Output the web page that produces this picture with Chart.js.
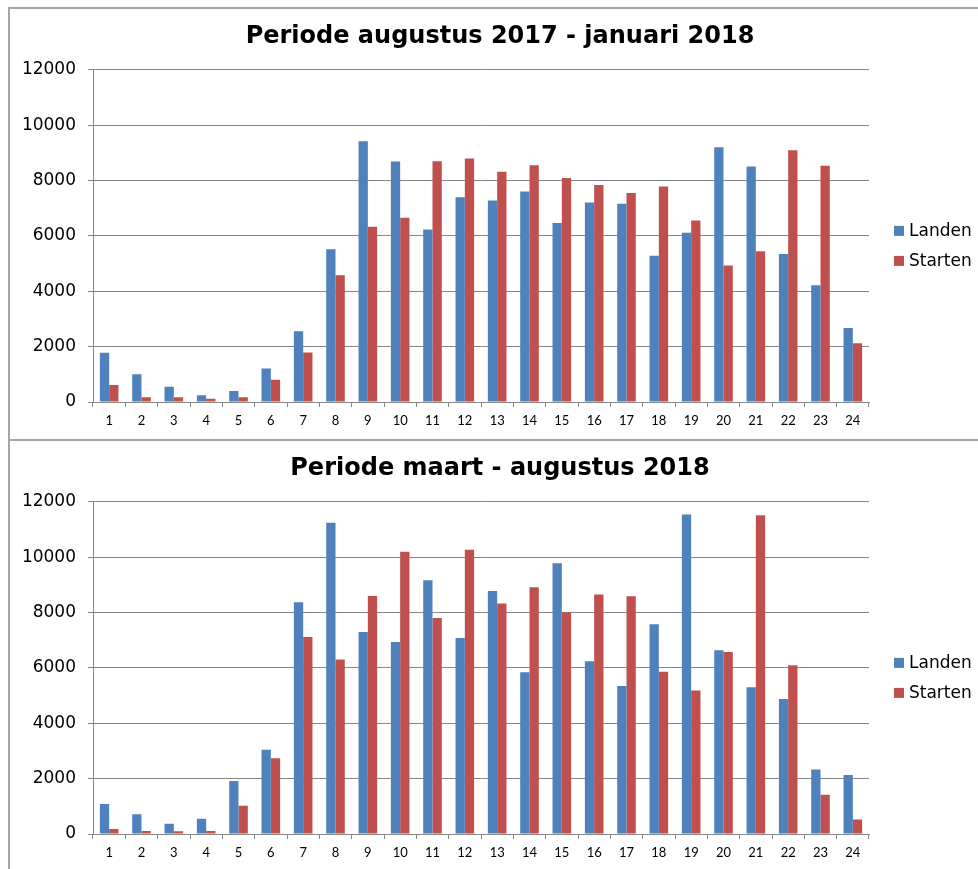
<!DOCTYPE html>
<html>
<head>
<meta charset="utf-8">
<script src="https://cdn.jsdelivr.net/npm/chart.js@4.4.0/dist/chart.umd.min.js"></script>
<style>
    body { margin: 0; background: #fff; overflow: hidden; width: 978px; height: 869px; position: relative; }
    .panel { position: absolute; left: 8px; width: 1000px; border-left: 2px solid #a6a6a6; border-top: 2px solid #a6a6a6; }
    #panelTop { top: 7px; height: 432px; }
    #panelBottom { top: 439px; height: 440px; }
    canvas { position: absolute; left: 0; top: 0; }
</style>
</head>
<body>
<div class="panel" id="panelTop"><canvas id="chartTop" width="980" height="430"></canvas></div>
<div class="panel" id="panelBottom"><canvas id="chartBottom" width="980" height="430"></canvas></div>
<script>
const hours = ['1','2','3','4','5','6','7','8','9','10','11','12','13','14','15','16','17','18','19','20','21','22','23','24'];
const seriesNames = ['Landen', 'Starten'];
const seriesColors = ['#4f81bd', '#c0504d'];
const yTicks = [0, 2000, 4000, 6000, 8000, 10000, 12000];

// augustus 2017 - januari 2018
const landen2017 = [1780, 1000, 550, 240, 400, 1210, 2560, 5520, 9420, 8690, 6230, 7400, 7280, 7600, 6470, 7210, 7160, 5280, 6110, 9200, 8510, 5350, 4220, 2670];
const starten2017 = [610, 170, 170, 120, 170, 800, 1790, 4580, 6330, 6660, 8700, 8800, 8320, 8550, 8090, 7840, 7550, 7780, 6560, 4930, 5450, 9090, 8530, 2120];

// maart - augustus 2018
const landen2018 = [1080, 710, 370, 550, 1910, 3040, 8370, 11240, 7300, 6940, 9170, 7080, 8780, 5840, 9780, 6240, 5350, 7580, 11540, 6640, 5300, 4880, 2330, 2130];
const starten2018 = [180, 110, 100, 110, 1020, 2740, 7120, 6300, 8600, 10200, 7800, 10270, 8330, 8910, 8010, 8650, 8590, 5860, 5180, 6570, 11510, 6100, 1420, 520];

const gridGray = '#868686';

// legend drawn to the right of the plot, like the excel sheet
const sideLegend = {
    id: 'sideLegend',
    afterDraw(chart) {
        const ctx = chart.ctx;
        const area = chart.chartArea;
        const mid = (area.top + area.bottom) / 2;
        ctx.save();
        ctx.font = '17px "DejaVu Sans"';
        ctx.textBaseline = 'middle';
        chart.data.datasets.forEach((ds, i) => {
            const y = mid - 5 + i * 30;
            const x = area.right + 25;
            ctx.fillStyle = ds.backgroundColor;
            ctx.fillRect(x, y - 5, 10, 10);
            ctx.fillStyle = '#000';
            ctx.fillText(ds.label, x + 15, y + 1);
        });
        ctx.restore();
    }
};

const fillDataIntoPairBarChart = (canvasID, xAxesData, yAxesData1, yAxesData2, chartTitle) => {
    new Chart(canvasID, {
        type: 'bar',
        data: {
            labels: xAxesData,
            datasets: [
                { label: seriesNames[0], data: yAxesData1, backgroundColor: seriesColors[0], barPercentage: 1, categoryPercentage: 0.575 },
                { label: seriesNames[1], data: yAxesData2, backgroundColor: seriesColors[1], barPercentage: 1, categoryPercentage: 0.575 }
            ]
        },
        options: {
            responsive: false,
            animation: false,
            devicePixelRatio: 1,
            layout: { padding: 0 },
            scales: {
                x: {
                    afterFit: (scale) => { scale.height = 37; },
                    grid: { display: true, drawOnChartArea: false, drawTicks: true, tickLength: 5, color: gridGray, offset: true },
                    border: { display: true, color: gridGray },
                    ticks: { color: '#000', font: { family: 'Lato', size: 13 }, padding: 6, maxRotation: 0, autoSkip: false }
                },
                y: {
                    min: 0,
                    max: yTicks[yTicks.length - 1],
                    afterFit: (scale) => { scale.width = 83; },
                    afterBuildTicks: (scale) => { scale.ticks = yTicks.map(v => ({ value: v })); },
                    grid: { color: gridGray, tickLength: 5 },
                    border: { display: true, color: gridGray },
                    ticks: { color: '#000', font: { family: 'DejaVu Sans', size: 17 }, padding: 12, callback: (value) => String(value) }
                },
                // empty space on the right where the legend goes
                legendSpace: {
                    position: 'right',
                    display: true,
                    afterFit: (scale) => { scale.width = 121; },
                    grid: { display: false },
                    border: { display: false },
                    ticks: { display: false }
                }
            },
            plugins: {
                legend: { display: false },
                tooltip: { enabled: false },
                title: {
                    display: true,
                    text: chartTitle,
                    color: '#000',
                    font: { family: 'DejaVu Sans', size: 24, weight: 'bold' },
                    padding: { top: 13, bottom: 19 }
                }
            }
        },
        plugins: [sideLegend]
    });
}

fillDataIntoPairBarChart('chartTop', hours, landen2017, starten2017, 'Periode augustus 2017 - januari 2018');
fillDataIntoPairBarChart('chartBottom', hours, landen2018, starten2018, 'Periode maart - augustus 2018');
</script>
</body>
</html>
